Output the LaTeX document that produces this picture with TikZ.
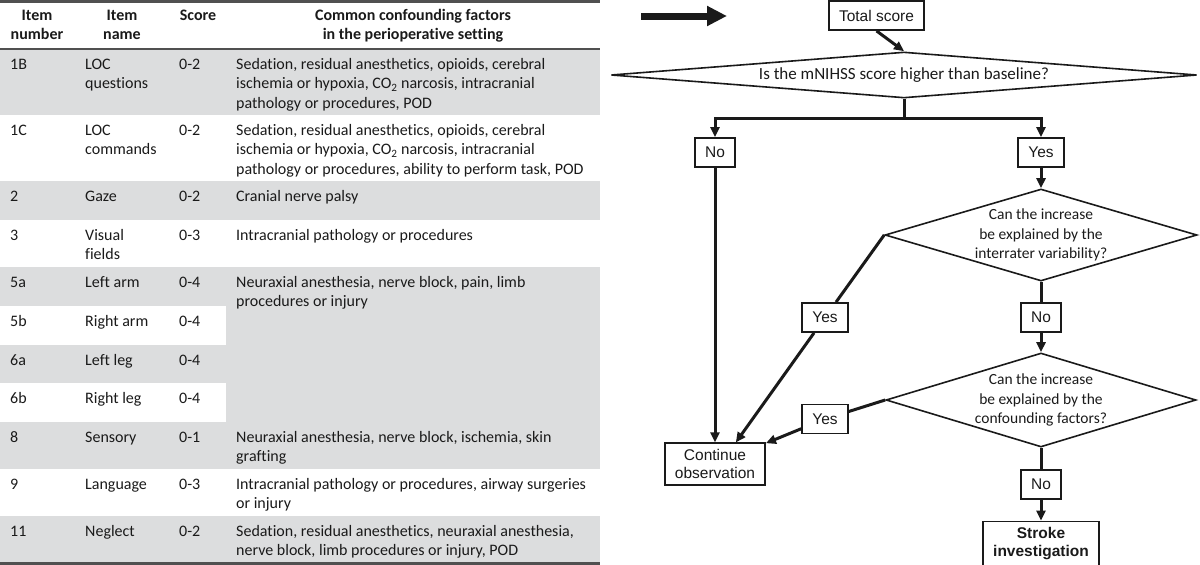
\documentclass[tikz,border=0pt]{standalone}
\usepackage{fontspec}
\setmainfont{Carlito}[Ligatures=NoCommon]
\newfontfamily\arialfont{Liberation Sans}
\usetikzlibrary{positioning,shapes.geometric,arrows.meta}

\definecolor{rowgray}{HTML}{DCDDDE}
\definecolor{rulegray}{HTML}{505050}
\definecolor{inkblack}{HTML}{1A1A1A}

\begin{document}
\begin{tikzpicture}[x=1pt, y=-1pt, every node/.style={text=inkblack},
  cell/.style={anchor=north west, yshift=13.65pt, inner sep=0pt, align=left, font={\fontsize{16}{19.5}\selectfont}},
  head/.style={anchor=north, yshift=13.3pt, inner sep=0pt, align=center, font={\bfseries\fontsize{16}{19}\selectfont}},
  box/.style={draw=inkblack, line width=1.8pt, rectangle, inner xsep=10pt, inner ysep=6pt, minimum height=29pt, align=center, font={\arialfont\fontsize{15.5}{18}\selectfont}},
  boldbox/.style={box, font={\arialfont\bfseries\fontsize{15.5}{18}\selectfont}},
  dec/.style={draw=inkblack, line width=1.6pt, diamond, inner sep=0pt, align=center, font={\fontsize{15.5}{19.3}\selectfont}},
  line/.style={draw=inkblack, line width=3pt},
  conn/.style={line, -{Triangle[length=10pt, width=9pt]}}]

\useasboundingbox (0,0) rectangle (1200,565);

% Tabela: faixas cinzas
\fill[rowgray] (0,49) rectangle (600,115);
\fill[rowgray] (0,181) rectangle (600,220);
\fill[rowgray] (0,267) rectangle (600,469);
\fill[white] (0,306) rectangle (226,345);
\fill[white] (0,383) rectangle (226,422);
\fill[rowgray] (0,516) rectangle (600,563);

% Tabela: linhas
\draw[rulegray, line width=3pt] (0,1.5) -- (600,1.5);
\draw[rulegray, line width=1.5pt] (0,49) -- (600,49);
\draw[rulegray, line width=3pt] (0,563.5) -- (600,563.5);

% Cabecalho
\node[head] (h-num) at (37,20) {\strut Item\\number};
\node[head] (h-name) at (122,20) {\strut Item\\name};
\node[head] (h-score) at (198,20) {\strut Score};
\node[head] (h-fac) at (413,20) {\strut Common confounding factors\\in the perioperative setting};

% Itens
\foreach \y/\num/\name/\sc in {69/1B/{LOC\\questions}/0-2, 135/1C/{LOC\\commands}/0-2,
    201/2/Gaze/0-2, 240/3/{Visual\\fields}/0-3, 287/5a/Left arm/0-4, 326/5b/Right arm/0-4,
    365/6a/Left leg/0-4, 403/6b/Right leg/0-4, 442/8/Sensory/0-1, 489/9/Language/0-3, 536/11/Neglect/0-2} {
  \node[cell] (num-\num) at (10,\y) {\strut\num};
  \node[cell] (name-\num) at (85,\y) {\strut\name};
  \node[cell] (score-\num) at (179,\y) {\strut\sc};
}

% Fatores
\node[cell] (fac-1B) at (236,69) {\strut Sedation, residual anesthetics, opioids, cerebral\\ischemia or hypoxia, CO\textsubscript{2} narcosis, intracranial\\pathology or procedures, POD};
\node[cell] (fac-1C) at (236,135) {\strut Sedation, residual anesthetics, opioids, cerebral\\ischemia or hypoxia, CO\textsubscript{2} narcosis, intracranial\\pathology or procedures, ability to perform task, POD};
\node[cell] (fac-2) at (236,201) {\strut Cranial nerve palsy};
\node[cell] (fac-3) at (236,240) {\strut Intracranial pathology or procedures};
\node[cell] (fac-5a) at (236,287) {\strut Neuraxial anesthesia, nerve block, pain, limb\\procedures or injury};
\node[cell] (fac-8) at (236,442) {\strut Neuraxial anesthesia, nerve block, ischemia, skin\\grafting};
\node[cell] (fac-9) at (236,489) {\strut Intracranial pathology or procedures, airway surgeries\\or injury};
\node[cell] (fac-11) at (236,536) {\strut Sedation, residual anesthetics, neuraxial anesthesia,\\nerve block, limb procedures or injury, POD};

% Fluxograma
\coordinate (arrS) at (641,16);
\coordinate (arrE) at (727,16);
\node[box] (total) at (876.5,15.5) {Total score};
\node[dec, shape aspect=20, minimum width=586pt, minimum height=46pt, font={\fontsize{17}{20}\selectfont}] (d1) at (904,75) {Is the mNIHSS score higher than baseline?};
\node[box] (no1) at (715,152.5) {No};
\node[box] (yes1) at (1041,152.5) {Yes};
\node[dec, shape aspect=3.4, minimum width=312pt, minimum height=92pt] (d2) at (1041,235) {Can the increase\\be explained by the\\interrater variability?};
\node[box] (yes2) at (825,317.5) {Yes};
\node[box] (no2) at (1041,317.5) {No};
\node[dec, shape aspect=3.4, minimum width=310pt, minimum height=94pt] (d3) at (1041,400) {Can the increase\\be explained by the\\confounding factors?};
\node[box] (yes3) at (825,419) {Yes};
\node[box, below=21pt of d3] (no3) {No};
\node[boldbox, below=21pt of no3] (stroke) {Stroke\\investigation};
\node[box] (cont) at (715,464) {Continue\\observation};

% Setas
\draw[inkblack, line width=7pt, -{Triangle[length=20pt, width=19pt]}] (arrS) -- (arrE);
\draw[conn] (total.south) -- (d1.north);
\draw[line] (d1.south) -- ++(0,20) coordinate (split);
\draw[conn] (split) -| (no1.north);
\draw[conn] (split) -| (yes1.north);
\draw[conn] (yes1) -- (d2.north);
\draw[conn] (no1) -- (cont);
\draw[line] (d2.west) -- (yes2);
\draw[conn] (yes2) -- (cont.46);
\draw[line] (d2.south) -- (no2);
\draw[conn] (no2) -- (d3.north);
\draw[line] (d3.west) -- (yes3);
\draw[conn] (yes3) -- (cont);
\draw[line] (d3.south) -- (no3);
\draw[conn] (no3) -- (stroke);
\end{tikzpicture}
\end{document}
